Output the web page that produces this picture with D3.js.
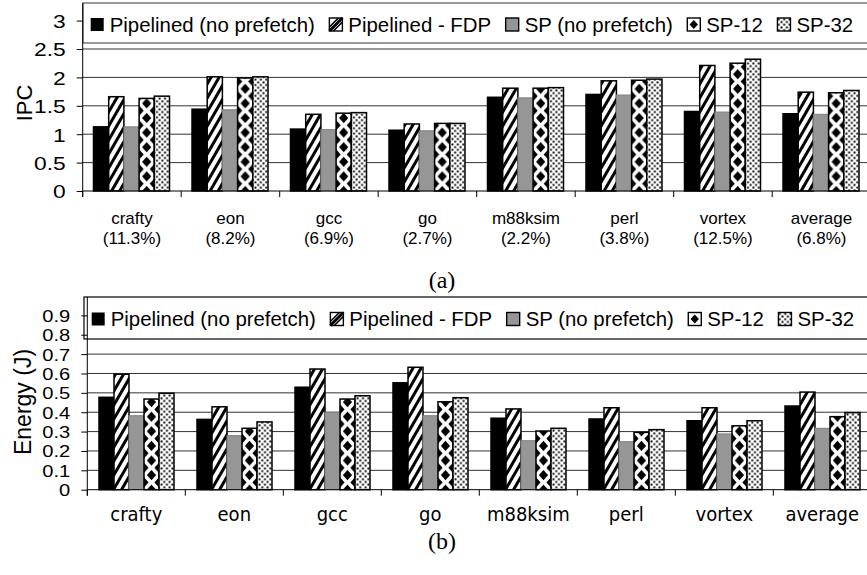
<!DOCTYPE html>
<html lang="en">
<head>
<meta charset="UTF-8">
<title>IPC and Energy</title>
<script src="https://d3js.org/d3.v7.min.js"></script>
<style>
  body { margin: 0; background: #fff; }
  text { font-family: "Liberation Sans", Arial, sans-serif; fill: #000; }
</style>
</head>
<body>
<svg id="chart" width="867" height="575"></svg>
<script>
const categories = ["crafty", "eon", "gcc", "go", "m88ksim", "perl", "vortex", "average"];
const ipcShares = ["(11.3%)", "(8.2%)", "(6.9%)", "(2.7%)", "(2.2%)", "(3.8%)", "(12.5%)", "(6.8%)"];
const seriesNames = ["Pipelined (no prefetch)", "Pipelined - FDP", "SP (no prefetch)", "SP-12", "SP-32"];

const ipcPipelined = [1.13, 1.44, 1.09, 1.07, 1.65, 1.70, 1.40, 1.36];
const ipcFDP       = [1.66, 2.01, 1.35, 1.18, 1.81, 1.94, 2.21, 1.74];
const ipcSP        = [1.13, 1.43, 1.08, 1.06, 1.64, 1.69, 1.39, 1.35];
const ipcSP12      = [1.63, 1.99, 1.37, 1.19, 1.81, 1.95, 2.25, 1.73];
const ipcSP32      = [1.67, 2.01, 1.38, 1.19, 1.82, 1.97, 2.32, 1.77];

const energyPipelined = [0.477, 0.363, 0.529, 0.552, 0.369, 0.365, 0.356, 0.432];
const energyFDP       = [0.596, 0.428, 0.623, 0.632, 0.417, 0.423, 0.423, 0.504];
const energySP        = [0.382, 0.279, 0.400, 0.382, 0.253, 0.248, 0.288, 0.317];
const energySP12      = [0.468, 0.317, 0.468, 0.454, 0.303, 0.296, 0.330, 0.377];
const energySP32      = [0.498, 0.350, 0.485, 0.475, 0.317, 0.310, 0.356, 0.398];

const ipcTicks = [0, 0.5, 1, 1.5, 2, 2.5, 3];
const energyTicks = [0, 0.1, 0.2, 0.3, 0.4, 0.5, 0.6, 0.7, 0.8, 0.9];

const svg = d3.select("#chart");
svg.append("rect").attr("width", 867).attr("height", 575).attr("fill", "#fff");
const defs = svg.append("defs");

// shared small patterns
const hatch = defs.append("pattern").attr("id", "hatch")
    .attr("patternUnits", "userSpaceOnUse").attr("width", 7).attr("height", 7)
    .attr("patternTransform", "rotate(30)");
hatch.append("rect").attr("width", 7).attr("height", 7).attr("fill", "#fff");
hatch.append("rect").attr("width", 3).attr("height", 7).attr("fill", "#000");

const dots = defs.append("pattern").attr("id", "dots")
    .attr("patternUnits", "userSpaceOnUse").attr("width", 5.4).attr("height", 5.4);
dots.append("rect").attr("width", 5.4).attr("height", 5.4).attr("fill", "#fff");
dots.append("rect").attr("x", 0.4).attr("y", 0.4).attr("width", 1.9).attr("height", 1.9).attr("fill", "#000");
dots.append("rect").attr("x", 3.1).attr("y", 3.1).attr("width", 1.9).attr("height", 1.9).attr("fill", "#000");

function diamondPath(cx, cy, w, h) {
  return `M${cx},${cy - h} L${cx + w},${cy} L${cx},${cy + h} L${cx - w},${cy} Z`;
}

function drawPanel(cfg) {
  const g = svg.append("g");
  const y = d3.scaleLinear().domain([0, cfg.yMax]).range([cfg.y0, cfg.yTop]);
  const x0 = d3.scaleBand().domain(categories)
      .range([cfg.axisX, cfg.axisX + categories.length * cfg.step]).padding(0);
  const x1 = d3.scaleBand().domain(seriesNames)
      .range([cfg.inner, cfg.inner + cfg.groupW]).padding(0);
  const bw = x1.bandwidth();

  // diamond pattern lined up with the SP-12 bars (one tile per category step)
  const pid = cfg.id + "-diam";
  const per = 14.6;
  const dp = defs.append("pattern").attr("id", pid)
      .attr("patternUnits", "userSpaceOnUse")
      .attr("x", x1("SP-12")).attr("y", cfg.y0)
      .attr("width", cfg.step).attr("height", per);
  dp.append("rect").attr("width", cfg.step).attr("height", per).attr("fill", "#fff");
  [[bw / 2, 0], [bw / 2, per], [0, per / 2], [bw, per / 2]].forEach(([cx, cy]) => {
    dp.append("path").attr("d", diamondPath(cx, cy, 4.6, 5.2)).attr("fill", "#000");
  });

  const fills = {
    "Pipelined (no prefetch)": "#000",
    "Pipelined - FDP": "url(#hatch)",
    "SP (no prefetch)": "#969696",
    "SP-12": `url(#${pid})`,
    "SP-32": "url(#dots)"
  };
  const strokes = {
    "Pipelined (no prefetch)": "#000",
    "Pipelined - FDP": "#000",
    "SP (no prefetch)": "#808080",
    "SP-12": "#000",
    "SP-32": "#000"
  };

  // gridlines
  g.append("g").selectAll("line")
      .data(cfg.ticks.filter(t => t > 0))
      .join("line")
      .attr("x1", cfg.axisX).attr("x2", 900)
      .attr("y1", d => y(d)).attr("y2", d => y(d))
      .attr("stroke", "#333").attr("stroke-width", 1);

  // bars
  const rows = categories.map((c, i) => ({
    cat: c,
    vals: seriesNames.map((s, j) => ({ s, v: cfg.series[j][i] }))
  }));
  g.append("g").selectAll("g")
      .data(rows)
      .join("g")
      .attr("transform", d => `translate(${x0(d.cat)},0)`)
      .selectAll("rect")
      .data(d => d.vals)
      .join("rect")
      .attr("x", d => x1(d.s))
      .attr("y", d => y(d.v))
      .attr("width", bw)
      .attr("height", d => cfg.y0 - y(d.v))
      .attr("fill", d => fills[d.s])
      .attr("stroke", d => strokes[d.s])
      .attr("stroke-width", d => d.s === "SP (no prefetch)" ? 1 : 1.5);

  // legend box
  g.append("rect")
      .attr("x", cfg.legX).attr("y", cfg.legY)
      .attr("width", 900 - cfg.legX).attr("height", cfg.legH)
      .attr("fill", "#fff").attr("stroke", cfg.legStroke).attr("stroke-width", 1.2);

  // y axis
  const ya = d3.axisLeft(y).tickValues(cfg.ticks).tickSize(6).tickPadding(0)
      .tickFormat(d3.format(""));
  const yg = g.append("g").attr("transform", `translate(${cfg.axisX},0)`).call(ya);
  yg.select(".domain").remove();
  yg.selectAll(".tick line").attr("stroke", "#000");
  yg.selectAll(".tick text")
      .attr("font-size", cfg.tickFont)
      .attr("x", -cfg.tickPad / cfg.tickScale)
      .attr("transform", `scale(${cfg.tickScale},1)`)
      .attr("dy", "0.36em");
  g.append("line")
      .attr("x1", cfg.axisX).attr("x2", cfg.axisX)
      .attr("y1", cfg.axisTop).attr("y2", cfg.y0 + 6)
      .attr("stroke", "#000");

  // x axis line and boundary ticks
  g.append("line")
      .attr("x1", cfg.axisX).attr("x2", 900)
      .attr("y1", cfg.y0).attr("y2", cfg.y0)
      .attr("stroke", "#000");
  g.append("g").selectAll("line")
      .data(categories)
      .join("line")
      .attr("x1", d => x0(d)).attr("x2", d => x0(d))
      .attr("y1", cfg.y0).attr("y2", cfg.y0 + 6)
      .attr("stroke", "#000");

  // category labels (second line as a tspan when present)
  const lab = g.append("g").selectAll("text")
      .data(categories)
      .join("text")
      .attr("y", cfg.labY)
      .attr("text-anchor", "middle")
      .attr("font-size", cfg.labFont)
      .style("font-family", cfg.labFamily);
  lab.append("tspan")
      .attr("x", d => x0(d) + cfg.step / 2)
      .text(d => d);
  if (cfg.subLabels) {
    lab.append("tspan")
        .attr("x", d => x0(d) + cfg.step / 2)
        .attr("dy", 19.5)
        .text((d, i) => cfg.subLabels[i]);
  }

  // y title
  g.append("text")
      .attr("transform", `translate(${cfg.titleX},${cfg.titleY}) rotate(-90)`)
      .attr("text-anchor", "middle")
      .attr("dy", "0.35em")
      .attr("font-size", cfg.titleFont)
      .text(cfg.title);

  // caption
  g.append("text")
      .attr("x", 442).attr("y", cfg.capY)
      .attr("text-anchor", "middle")
      .attr("font-size", 24)
      .style("font-family", "'Liberation Serif', 'Times New Roman', serif")
      .text(cfg.caption);

  // legend entries
  let lx = cfg.legStart;
  seriesNames.forEach(s => {
    const sy = cfg.legTextY - 13.5;
    const sw = g.append("g").attr("transform", `translate(${lx},${sy})`);
    if (s === "Pipelined (no prefetch)") {
      sw.append("rect").attr("width", 13).attr("height", 13).attr("fill", "#000");
    } else if (s === "Pipelined - FDP") {
      sw.append("rect").attr("width", 13).attr("height", 13).attr("fill", "#fff");
      sw.append("path").attr("d", "M0,9 L9,0 M4,13 L13,4")
          .attr("stroke", "#000").attr("stroke-width", 1.6);
      sw.append("path").attr("d", "M0,13 L13,0").attr("stroke", "#000").attr("stroke-width", 3);
      sw.append("rect").attr("width", 13).attr("height", 13).attr("fill", "none")
          .attr("stroke", "#000").attr("stroke-width", 1.4);
    } else if (s === "SP (no prefetch)") {
      sw.append("rect").attr("width", 13).attr("height", 13).attr("fill", "#969696")
          .attr("stroke", "#000").attr("stroke-width", 1.4);
    } else if (s === "SP-12") {
      sw.append("rect").attr("width", 13).attr("height", 13).attr("fill", "#fff")
          .attr("stroke", "#000").attr("stroke-width", 1.4);
      sw.append("path").attr("d", diamondPath(6.5, 6.5, 4.2, 4.6)).attr("fill", "#000");
    } else {
      sw.append("rect").attr("width", 13).attr("height", 13).attr("fill", "url(#dots)")
          .attr("stroke", "#000").attr("stroke-width", 1.4);
    }
    const t = g.append("text")
        .attr("x", lx + 19).attr("y", cfg.legTextY)
        .attr("font-size", 20.4)
        .text(s);
    lx += 19 + t.node().getComputedTextLength() + 14.5;
  });
}

drawPanel({
  id: "a",
  series: [ipcPipelined, ipcFDP, ipcSP, ipcSP12, ipcSP32],
  ticks: ipcTicks, yMax: 3,
  y0: 191, yTop: 191 - 3 * 56.8,
  axisX: 82.7, axisTop: 3, step: 98.5, inner: 10.8, groupW: 76,
  legX: 83, legY: 3, legH: 40, legStroke: "#555",
  legStart: 90.7, legTextY: 31.5,
  tickFont: 19, tickScale: 1.2, tickPad: 17,
  labY: 224, labFont: 17, labFamily: "'Liberation Sans', Arial, sans-serif",
  subLabels: ipcShares,
  title: "IPC", titleX: 24, titleY: 103, titleFont: 22,
  caption: "(a)", capY: 288
});

drawPanel({
  id: "b",
  series: [energyPipelined, energyFDP, energySP, energySP12, energySP32],
  ticks: energyTicks, yMax: 0.9,
  y0: 489.7, yTop: 489.7 - 0.9 * 193.7,
  axisX: 87.3, axisTop: 297, step: 98, inner: 11.7, groupW: 75,
  legX: 84, legY: 297, legH: 42, legStroke: "#000",
  legStart: 91.7, legTextY: 326,
  tickFont: 16.5, tickScale: 1.22, tickPad: 17,
  labY: 521, labFont: 20,
  labFamily: "'Liberation Sans Narrow', 'DejaVu Sans Condensed', sans-serif",
  subLabels: null,
  title: "Energy (J)", titleX: 23, titleY: 402, titleFont: 23,
  caption: "(b)", capY: 549
});
</script>
</body>
</html>
